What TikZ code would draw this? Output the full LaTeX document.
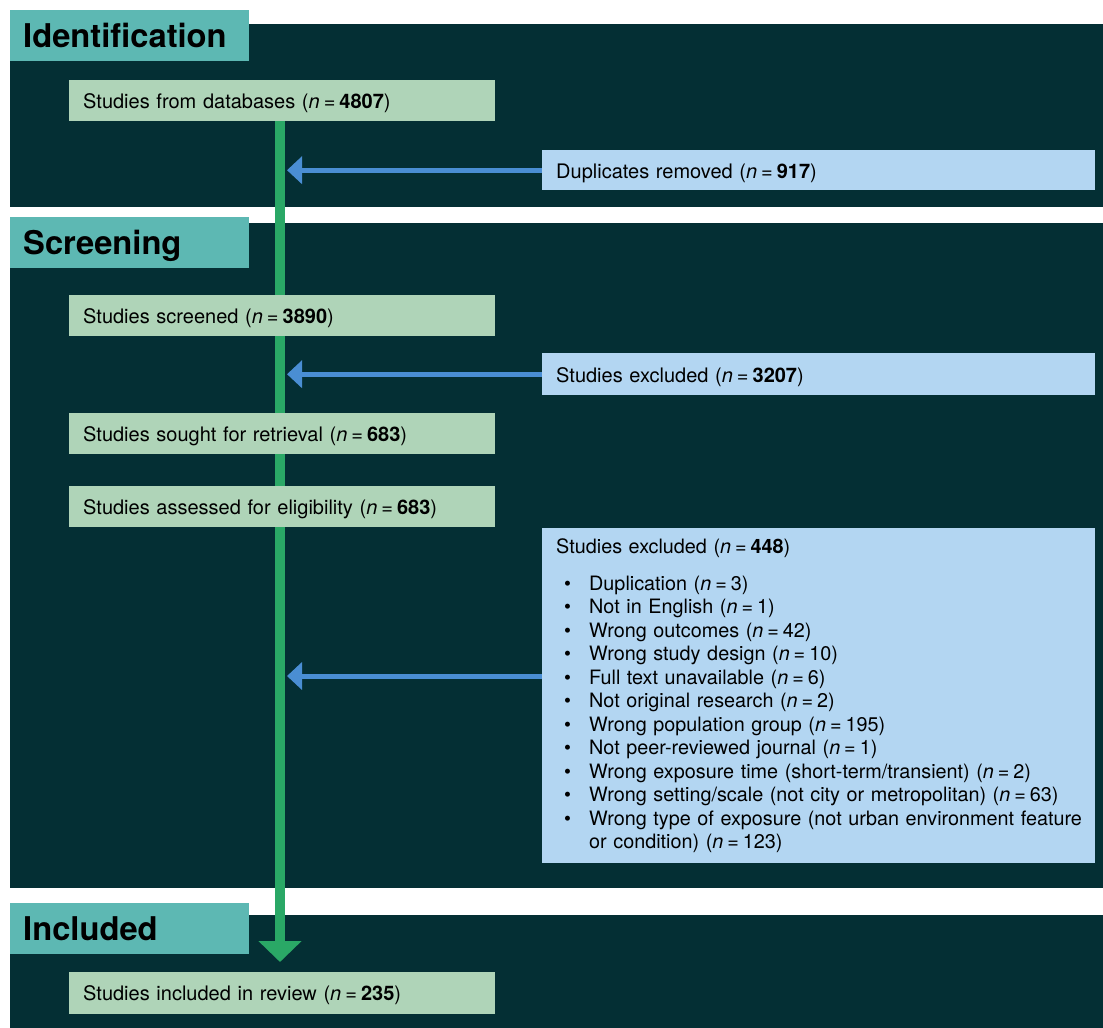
\documentclass[tikz,border=0pt]{standalone}
\usepackage{fontspec}
\setmainfont{TeX Gyre Heros}
\usetikzlibrary{arrows.meta}
\definecolor{darkpanel}{HTML}{042F34}
\definecolor{headteal}{HTML}{5DB8B3}
\definecolor{greenbox}{HTML}{AFD4B8}
\definecolor{bluebox}{HTML}{B3D6F2}
\definecolor{flowgreen}{HTML}{2AA866}
\definecolor{arrowblue}{HTML}{4A8ED3}
\pgfdeclarelayer{panels}
\pgfdeclarelayer{flow}
\pgfsetlayers{panels,flow,main}
\newcommand\eqsp{\hspace{0.2em}=\hspace{0.2em}}
\newcommand\ncnt[1]{(\textit{n}\eqsp\textbf{#1})}
\newcommand\nplain[1]{(\textit{n}\eqsp#1)}
\newcommand\bitem{\hspace*{8pt}\makebox[25pt][l]{\textbullet}}
\begin{document}
\begin{tikzpicture}[x=1pt,y=-1pt,
  panel/.style={fill=darkpanel,draw=none},
  header/.style={fill=headteal,draw=none,anchor=north west,minimum width=239pt,minimum height=51pt,
    inner xsep=13pt,inner ysep=0pt,text width=213pt,text height=23.6pt,text depth=0pt,
    align=left,font=\fontsize{32.7}{36}\selectfont\bfseries},
  gbox/.style={fill=greenbox,draw=none,anchor=north west,minimum width=426pt,minimum height=41pt,
    inner xsep=14pt,inner ysep=0pt,text width=398pt,text height=15.5pt,text depth=0pt,
    align=left,font=\fontsize{20}{24}\selectfont},
  bbox/.style={fill=bluebox,draw=none,anchor=north west,minimum width=553pt,
    inner xsep=14pt,inner ysep=0pt,text width=525pt,align=left,font=\fontsize{20}{23.5}\selectfont},
  flowline/.style={draw=flowgreen,line width=10pt,-{Triangle[width=42pt,length=21pt]}},
  xarrow/.style={draw=arrowblue,line width=5pt,-{Triangle[width=27pt,length=15pt]}}
]
\begin{pgfonlayer}{panels}
\fill[white] (0,0) rectangle (1103,1028);
\fill[panel] (10,24) rectangle (1103,207);
\fill[panel] (10,223) rectangle (1103,888);
\fill[panel] (10,915) rectangle (1103,1028);
\end{pgfonlayer}
\useasboundingbox (0,0) rectangle (1103,1028);

\node[header] (hid) at (10,10) {Identification};
\node[header] (hsc) at (10,217) {Screening};
\node[header] (hin) at (10,903) {Included};

\node[gbox] (s1) at (69,80) {Studies from databases \ncnt{4807}};
\node[gbox] (s2) at (69,295) {Studies screened \ncnt{3890}};
\node[gbox] (s3) at (69,413) {Studies sought for retrieval \ncnt{683}};
\node[gbox] (s4) at (69,486) {Studies assessed for eligibility \ncnt{683}};
\node[gbox,minimum height=42pt] (s5) at (69,972) {Studies included in review \ncnt{235}};

\node[bbox,minimum height=40pt,text height=16pt,text depth=0pt] (b1) at (542,150) {Duplicates removed \ncnt{917}};
\node[bbox,minimum height=42pt,text height=16pt,text depth=0pt] (b2) at (542,353) {Studies excluded \ncnt{3207}};
\node[bbox,minimum height=335pt,font=\fontsize{19.8}{23.5}\selectfont] (b3) at (542,528) {Studies excluded \ncnt{448}\\[13pt]
\bitem Duplication \nplain{3}\\
\bitem Not in English \nplain{1}\\
\bitem Wrong outcomes \nplain{42}\\
\bitem Wrong study design \nplain{10}\\
\bitem Full text unavailable \nplain{6}\\
\bitem Not original research \nplain{2}\\
\bitem Wrong population group \nplain{195}\\
\bitem Not peer-reviewed journal \nplain{1}\\
\bitem Wrong exposure time (short-term/transient) \nplain{2}\\
\bitem Wrong setting/scale (not city or metropolitan) \nplain{63}\\
\bitem \mbox{Wrong type of exposure (not urban environment feature}\\
\hspace*{33pt}or condition) \nplain{123}};

\coordinate (gx) at (280,0);
\coordinate (gx2) at (287,0);
\coordinate (gend) at (280,962);
\coordinate (ya) at (0,676);

\begin{pgfonlayer}{flow}
\draw[flowline] (s1.south -| gx) -- (gend);
\end{pgfonlayer}

\draw[xarrow] (b1.west) -- (b1.west -| gx2);
\draw[xarrow] (b2.west) -- (b2.west -| gx2);
\draw[xarrow] (b3.west |- ya) -- (gx2 |- ya);
\end{tikzpicture}
\end{document}
